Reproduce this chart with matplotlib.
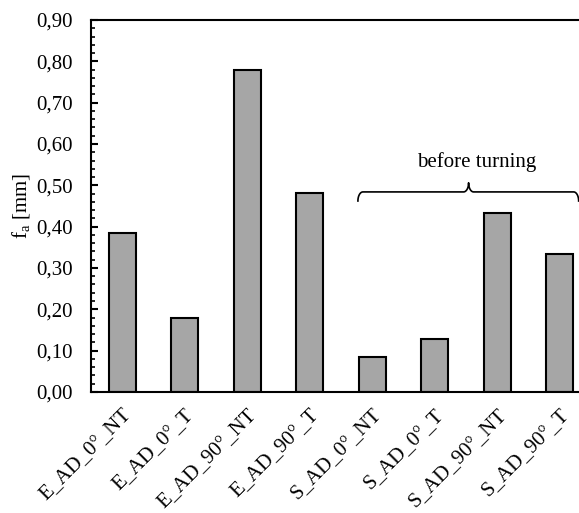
import numpy as np
import matplotlib.pyplot as plt
from matplotlib.ticker import MultipleLocator, FuncFormatter

plt.rcParams['font.family'] = ['Liberation Serif', 'DejaVu Serif']
plt.rcParams['mathtext.fontset'] = 'custom'
plt.rcParams['mathtext.rm'] = 'Liberation Serif'

samples = ["E_AD_0°_NT", "E_AD_0°_T", "E_AD_90°_NT", "E_AD_90°_T",
           "S_AD_0°_NT", "S_AD_0°_T", "S_AD_90°_NT", "S_AD_90°_T"]
fa = [0.385, 0.179, 0.779, 0.481, 0.085, 0.128, 0.434, 0.334]

fig = plt.figure(figsize=(5.79, 5.13), dpi=100)
ax = fig.add_axes([0.157, 0.236, 0.864, 0.725])

x = np.arange(len(samples))
ax.bar(x, fa, width=0.43, color="#a6a6a6", edgecolor="black", linewidth=1.5)

ax.set_xlim(-0.5, len(samples) - 0.5)
ax.set_ylim(0, 0.9)
ax.yaxis.set_major_locator(MultipleLocator(0.1))
ax.yaxis.set_minor_locator(MultipleLocator(0.02))
ax.yaxis.set_major_formatter(FuncFormatter(lambda v, p: f"{v:.2f}".replace(".", ",")))
ax.tick_params(axis="y", which="major", direction="in", length=5, width=1.5, labelsize=15, pad=13)
ax.tick_params(axis="y", which="minor", direction="in", length=3, width=1.2)
ax.set_xticks(x)
ax.set_xticklabels(samples, rotation=45, ha="right", rotation_mode="anchor", fontsize=15)
ax.tick_params(axis="x", length=0, pad=10)
for s in ax.spines.values():
    s.set_linewidth(1.5)
ax.set_ylabel("f$_\\mathregular{a}$ [mm]", fontsize=15, labelpad=2)

# curly brace over the S_AD samples
x0, x1, xm = 3.77, 7.3, 5.54
yb, r_x, r_y = 0.484, 0.08, 0.022
t = np.linspace(0, np.pi / 2, 20)
left_end = np.c_[x0 + r_x * (1 - np.cos(t)), yb - r_y + r_y * np.sin(t)]
mid_l = np.c_[xm - r_x + r_x * np.sin(t), yb + r_y * (1 - np.cos(t))]
mid_r = np.c_[xm + r_x * (1 - np.cos(t)), yb + r_y * (1 - np.sin(t))]
right_end = np.c_[x1 - r_x + r_x * np.sin(t), yb - r_y + r_y * np.cos(t)]
brace = np.vstack([left_end, mid_l, mid_r, right_end])
ax.plot(brace[:, 0], brace[:, 1], color="black", lw=1.2, clip_on=False)
ax.text(5.67, 0.545, "before turning", ha="center", va="baseline", fontsize=15)

fig.savefig("out.png", dpi=100)
